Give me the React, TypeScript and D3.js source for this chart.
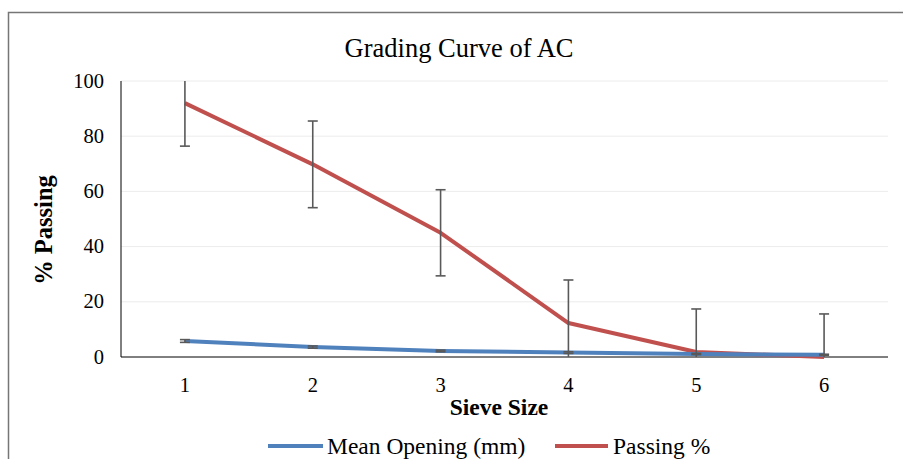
import React from "react";
import * as d3 from "d3";

const categories = ["1", "2", "3", "4", "5", "6"];
const meanOpening = [5.8, 3.6, 2.2, 1.6, 1.1, 0.8];
const meanOpeningErr = [0.5, 0.4, 0.3, 0.3, 0.2, 0.2];
const passing = [92, 69.8, 45, 12.3, 1.8, 0];
const passingErr = [15.6, 15.7, 15.6, 15.6, 15.6, 15.6];
const yTicks = [0, 20, 40, 60, 80, 100];

const W = 903;
const H = 459;
const left = 121;
const right = 888;
const top = 81;
const bottom = 357;
const FONT = "'Liberation Serif', 'Times New Roman', serif";

export default function App() {
  const x = d3.scaleBand<string>().domain(categories).range([left, right]);
  const cx = (c: string) => (x(c) as number) + x.bandwidth() / 2;
  const y = d3.scaleLinear().domain([0, 100]).range([bottom, top]);
  const clampY = (v: number) => y(Math.max(0, Math.min(100, v)));
  const line = d3
    .line<number>()
    .x((_, i) => cx(categories[i]))
    .y((d) => y(d));

  const errBars = (vals: number[], errs: number[], key: string) =>
    vals.map((v, i) => {
      const xx = cx(categories[i]);
      const y1 = clampY(v + errs[i]);
      const y2 = clampY(v - errs[i]);
      const capTop = v + errs[i] <= 100;
      const capBot = v - errs[i] >= 0;
      return (
        <g key={key + i} stroke="#595959" strokeWidth={1.6}>
          <line x1={xx} x2={xx} y1={y1} y2={y2} />
          {capTop && <line x1={xx - 5} x2={xx + 5} y1={y1} y2={y1} />}
          {capBot && <line x1={xx - 5} x2={xx + 5} y1={y2} y2={y2} />}
        </g>
      );
    });

  return (
    <svg
      width={W}
      height={H}
      style={{ position: "absolute", left: 0, top: 0, fontFamily: FONT }}
    >
      <rect x={0} y={0} width={W} height={H} fill="#fff" />
      <rect
        x={8.5}
        y={12.5}
        width={W + 20}
        height={H + 20}
        fill="none"
        stroke="#767676"
        strokeWidth={1.5}
      />
      <text x={459} y={57} textAnchor="middle" fontSize={26.5} fill="#000">
        Grading Curve of AC
      </text>
      {yTicks.map((t) => (
        <g key={t}>
          {t > 0 && (
            <line x1={left} x2={right} y1={y(t)} y2={y(t)} stroke="#ececec" strokeWidth={1} />
          )}
          <text x={104} y={y(t) + 6.5} textAnchor="end" fontSize={20.5} fill="#000">
            {t}
          </text>
        </g>
      ))}
      <line x1={left} x2={left} y1={top} y2={bottom} stroke="#000" strokeWidth={1} />
      <line x1={left} x2={right} y1={bottom} y2={bottom} stroke="#000" strokeWidth={1} />
      {categories.map((c) => (
        <text key={c} x={cx(c)} y={392} textAnchor="middle" fontSize={20.5} fill="#000">
          {c}
        </text>
      ))}
      <text x={499} y={415} textAnchor="middle" fontSize={23.5} fontWeight="bold" fill="#000">
        Sieve Size
      </text>
      <text
        transform="translate(52,230) rotate(-90)"
        textAnchor="middle"
        fontSize={24.5}
        fontWeight="bold"
        fill="#000"
      >
        % Passing
      </text>
      <path d={line(passing) || ""} fill="none" stroke="#c0504d" strokeWidth={4} strokeLinejoin="round" />
      <path d={line(meanOpening) || ""} fill="none" stroke="#4f81bd" strokeWidth={4} strokeLinejoin="round" />
      {errBars(passing, passingErr, "p")}
      {errBars(meanOpening, meanOpeningErr, "m")}
      <g>
        <line x1={268} x2={323} y1={446} y2={446} stroke="#4f81bd" strokeWidth={4} />
        <text x={327} y={454} fontSize={23.5} fill="#000">
          Mean Opening (mm)
        </text>
        <line x1={555} x2={608} y1={446} y2={446} stroke="#c0504d" strokeWidth={4} />
        <text x={613} y={454} fontSize={23.5} fill="#000">
          Passing %
        </text>
      </g>
    </svg>
  );
}
